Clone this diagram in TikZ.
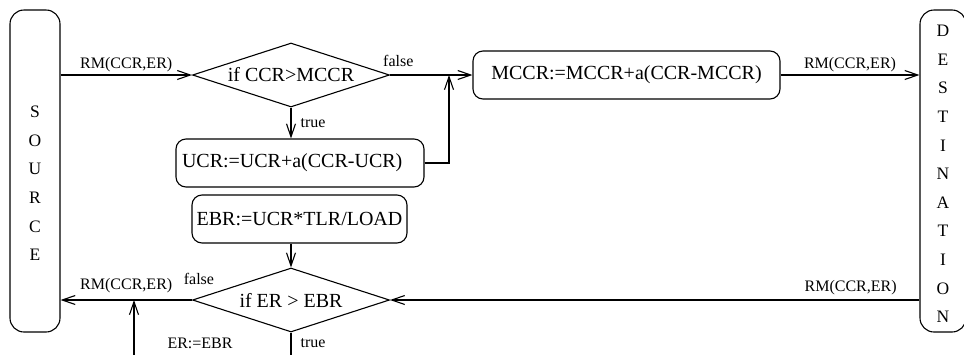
\documentclass[tikz,border=0pt]{standalone}
\usepackage{fontspec}
\setmainfont{Liberation Serif}
\usetikzlibrary{shapes.geometric, arrows.meta}

\tikzset{
  >={Straight Barb[length=13pt, width=9pt]},
  box/.style={draw, rounded corners=10pt, minimum height=48pt, inner sep=3pt,
    font=\fontsize{20}{24}\selectfont},
  test/.style={draw, diamond, aspect=3, inner sep=0pt, minimum width=197pt,
    minimum height=64pt, font=\fontsize{20}{24}\selectfont},
  endpoint/.style={draw, rounded corners=14pt, minimum width=50pt, minimum height=322pt},
  letters/.style={align=center, font=\fontsize{17.5}{28.6}\selectfont},
  lbl/.style={font=\fontsize{16}{19}\selectfont, inner sep=3pt},
}

\begin{document}
\begin{tikzpicture}[x=1pt, y=-1pt, line width=1.1pt]
  \useasboundingbox (0,0) rectangle (964,354);

  % source and destination
  \node[endpoint] (source) at (35,171) {};
  \node[letters] (srcname) at ([yshift=-12.5pt]source.center) {S\\O\\U\\R\\C\\E};
  \node[endpoint, minimum width=46pt] (dest) at (943,171) {};
  \node[letters] (dstname) at ([yshift=-3pt]dest.center) {D\\E\\S\\T\\I\\N\\A\\T\\I\\O\\N};

  % forward RM cell
  \node[test] (ccrtest) at (291,75) {if CCR>MCCR};
  \node[box, minimum width=248pt, text width=236pt, align=left, inner xsep=6pt] (ucr) at (300,163) {UCR:=UCR+a(CCR-UCR)};
  \node[box, minimum width=307pt] (mccr) at (626.5,75) {MCCR:=MCCR+a(CCR-MCCR)};
  \coordinate (merge) at (449,75);

  % backward RM cell
  \node[box, minimum width=215pt] (ebr) at (299.5,219) {EBR:=UCR*TLR/LOAD};
  \node[test] (ertest) at (291,300) {if ER > EBR};
  \coordinate (exit) at (291,380);
  \coordinate (reset) at (134,380);

  \draw[->] (source.east |- ccrtest.west) -- (ccrtest.west)
    node[lbl, midway, above] {RM(CCR,ER)};
  \draw[->] (ccrtest.east) -- (mccr.west)
    node[lbl, pos=0.1, above, yshift=5pt] {false};
  \draw[->] (ccrtest.south) -- (ccrtest.south |- ucr.north)
    node[lbl, midway, right, xshift=6pt] {true};
  \draw[->] (ucr.east) -| (merge);
  \draw[->] (mccr.east) -- (mccr.east -| dest.west)
    node[lbl, midway, above] {RM(CCR,ER)};

  \draw[->] (ertest.north |- ebr.south) -- (ertest.north);
  \draw[->] (dest.west |- ertest.east) -- (ertest.east)
    node[lbl, pos=0.13, above, yshift=2pt] {RM(CCR,ER)};
  \draw[->] (ertest.west) -- (ertest.west -| source.east)
    node[lbl, midway, above, yshift=4pt] {RM(CCR,ER)}
    node[lbl, pos=0, above, xshift=7pt, yshift=12pt] {false};
  \draw (ertest.south) -- (exit)
    node[lbl, pos=0.23, right, xshift=6pt] {true};
  \draw[->] (reset) -- (reset |- ertest.west)
    node[lbl, pos=0.46, right, xshift=30pt] {ER:=EBR};
\end{tikzpicture}
\end{document}
